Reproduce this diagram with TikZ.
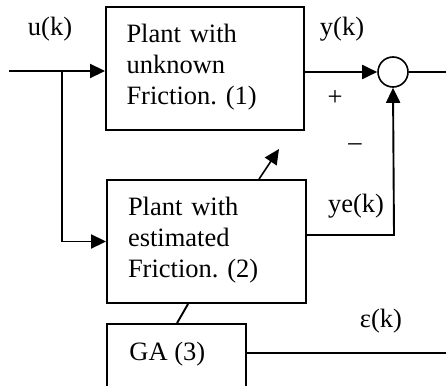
\documentclass[tikz,border=0pt]{standalone}
\usepackage{fontspec}
\setmainfont{Liberation Serif}
\usetikzlibrary{arrows.meta,calc}
\begin{document}
\frenchspacing
\begin{tikzpicture}[x=1pt,y=-1pt,
  line width=1.9pt,
  every node/.style={font=\fontsize{26.5}{31}\selectfont},
  blk/.style={draw,rectangle,inner sep=0pt,align=left,line width=1.9pt},
  arr/.style={-{Triangle[length=15pt,width=14pt]}},
  lbl/.style={inner sep=0pt,anchor=base}
]
\useasboundingbox (0,0) rectangle (446,385);
\begin{scope}
\clip (0,0) rectangle (446,385);
% blocks
\node[blk,minimum width=198pt,minimum height=123pt,text width=157pt] (box1) at (205,68.5)
  {Plant with\\unknown\\Friction. (1)\\[-22pt]\mbox{}};
\node[blk,minimum width=199pt,minimum height=123pt,text width=157pt] (box2) at (206.5,241.5)
  {Plant with\\estimated\\Friction. (2)\\[-22pt]\mbox{}};
\node[draw,rectangle,inner sep=0pt,minimum width=139pt,minimum height=120pt] (ga) at (176.5,384) {};
\node[lbl,anchor=base west] (galbl) at (128.5,360) {GA (3)};
\node[draw,circle,minimum size=30pt,inner sep=0pt,line width=1.6pt] (sum) at (393,72) {};
% coordinates
\coordinate (in) at (9,71);
\coordinate (br) at (62,71);
\coordinate (out) at (446,72);
\coordinate (yec) at (394,235);
\coordinate (eps) at (446,353);
\coordinate (d2) at (279,149);
% connectors
\draw[arr] (in) -- (in -| box1.west);
\draw[arr] (br) |- (box2.west);
\draw[arr] (box1.east |- sum) -- (sum.west);
\draw (sum.east) -- (out);
\draw[arr] (yec -| box2.east) -- (yec) -- (sum.south);
\draw (eps -| ga.east) -- (eps);
\draw ([xshift=82pt]box2.south west) -- ([xshift=71pt]ga.north west);
\draw[arr,line width=1.6pt] ([xshift=153pt]box2.north west) -- (d2);
% labels
\node[lbl] (u) at (50,36) {u(k)};
\node[lbl] (y) at (342,36) {y(k)};
\node[lbl] (plus) at (335,106) {+};
\node[lbl] (minus) at (355,150) {–};
\node[lbl] (ye) at (356,212) {ye(k)};
\node[lbl] (ep) at (381,327) {ε(k)};
\end{scope}
\end{tikzpicture}
\end{document}
